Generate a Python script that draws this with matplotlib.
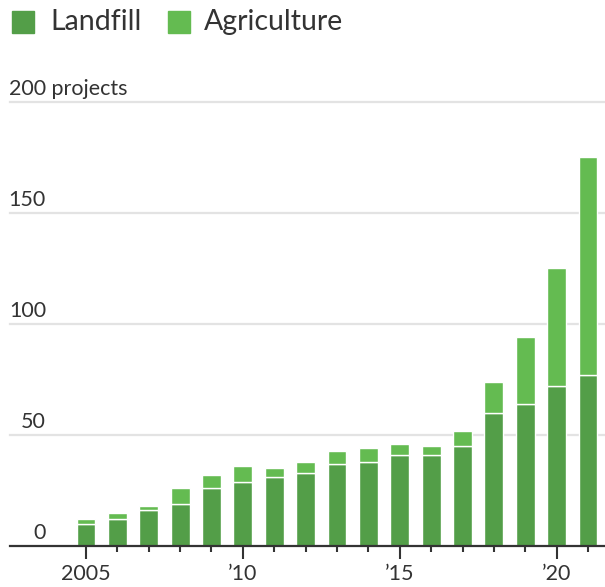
import matplotlib.pyplot as plt
import matplotlib.transforms as mtransforms
from matplotlib.patches import Rectangle

years = list(range(2005, 2022))
landfill = [10, 12, 16, 19, 26, 29, 31, 33, 37, 38, 41, 41, 45, 60, 64, 72, 77]
agriculture = [2, 3, 2, 7, 6, 7, 4, 5, 6, 6, 5, 4, 7, 14, 30, 53, 98]
y_ticks = [0, 50, 100, 150, 200]
y_labels = ['0', '50', '100', '150', '200']
x_ticks = [2005, 2010, 2015, 2020]
x_labels = ['2005', '\u201910', '\u201915', '\u201920']

dark = '#539e48'
light = '#64bb51'
plt.rcParams['font.family'] = ['Lato', 'DejaVu Sans']

fig = plt.figure(figsize=(6.05, 5.87), dpi=100)
ax = fig.add_axes([10 / 605, 41 / 587, 595 / 605, (546 - 102) / 587])

# gridlines behind bars
for v in y_ticks[1:]:
    ax.axhline(v, color='#e3e3e3', lw=1.6, zorder=0, clip_on=False)

ax.bar(years, landfill, width=0.6, color=dark, edgecolor='white', linewidth=1, zorder=2)
ax.bar(years, agriculture, bottom=landfill, width=0.6, color=light,
       edgecolor='white', linewidth=1, zorder=2)

ax.set_xlim(2002.58, 2021.54)
ax.set_ylim(0, 200)

for s in ['top', 'right', 'left']:
    ax.spines[s].set_visible(False)
ax.spines['bottom'].set_color('#333333')
ax.spines['bottom'].set_linewidth(1.6)
ax.spines['bottom'].set_zorder(3)

ax.set_yticks([])
ax.set_xticks(x_ticks)
ax.set_xticklabels(x_labels, fontsize=15.5, color='#333333')
ax.set_xticks(years, minor=True)
ax.tick_params(axis='x', which='major', length=9, width=1.5, color='#333333', pad=4)
ax.tick_params(axis='x', which='minor', length=4, width=1.5, color='#333333')

# y labels right-aligned at x=46px, sitting above gridlines
trans = mtransforms.blended_transform_factory(ax.transAxes, ax.transData)
offset = mtransforms.offset_copy(trans, fig=fig, x=36, y=7, units='dots')
for v, lab in zip(y_ticks, y_labels):
    ax.text(0.0, v, lab, transform=offset, ha='right', va='baseline',
            fontsize=15.5, color='#333333', zorder=4)
ax.text(0.0, 200, ' projects', transform=offset, ha='left', va='baseline',
        fontsize=15.5, color='#333333', zorder=4)

# legend
fig.patches.append(Rectangle((12 / 605, 1 - 33 / 587), 22 / 605, 22 / 587,
                             transform=fig.transFigure, color=dark))
fig.text(50 / 605, 1 - 22 / 587, 'Landfill', fontsize=20.5, color='#333333', va='center')
fig.patches.append(Rectangle((168 / 605, 1 - 33 / 587), 22 / 605, 22 / 587,
                             transform=fig.transFigure, color=light))
fig.text(204 / 605, 1 - 22 / 587, 'Agriculture', fontsize=20.5, color='#333333', va='center')

fig.savefig('out.png', dpi=100)
